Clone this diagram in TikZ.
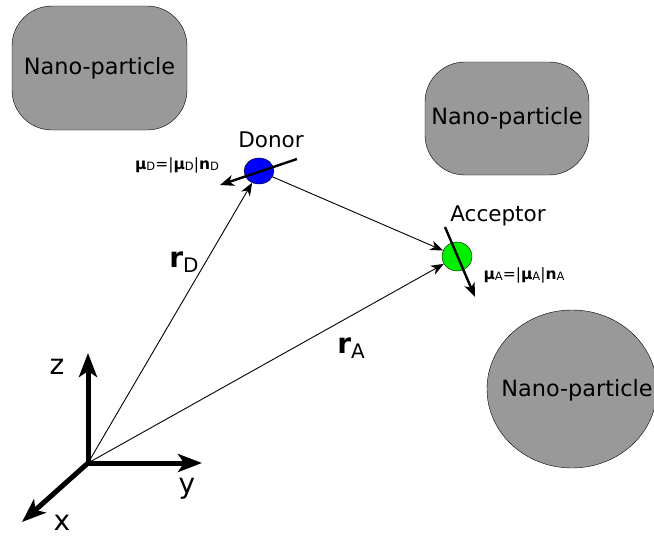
\documentclass[tikz,border=0pt]{standalone}
\usepackage{fontspec}
\setmainfont{DejaVu Sans}
\usetikzlibrary{arrows.meta,shapes.geometric,calc}
\definecolor{NanoGray}{HTML}{999999}
\definecolor{DonorBlue}{HTML}{0000FF}
\definecolor{AccGreen}{HTML}{00F000}
\newcommand{\smallidx}[1]{\raisebox{-0.12em}{\fontsize{11.5}{13}\selectfont #1}}
\newcommand{\bigidx}[1]{\raisebox{-0.18em}{\fontsize{20}{24}\selectfont #1}}
\newcommand{\dipolelab}[1]{\textbf{μ}\smallidx{#1}=|\textbf{μ}\smallidx{#1}|\textbf{n}\smallidx{#1}}
\tikzset{
  nano/.style={draw=black, fill=NanoGray, rounded corners=40pt, inner sep=0pt, font=\fontsize{22.4}{26}\selectfont},
  nanoball/.style={draw=black, fill=NanoGray, ellipse, inner sep=0pt},
  nanotext/.style={inner sep=0pt, font=\fontsize{22.4}{26}\selectfont},
  mol/.style={draw=black, ellipse, inner sep=0pt},
  lbl/.style={inner sep=0pt, font=\fontsize{21.5}{25}\selectfont},
  axislbl/.style={inner sep=0pt, font=\fontsize{28}{32}\selectfont},
  rvec/.style={-{Stealth[length=13pt,width=10pt,inset=4pt]}, line width=0.9pt},
  dip/.style={-{Stealth[length=14pt,width=11pt,inset=4pt]}, line width=2.4pt},
  axis/.style={-{Stealth[length=24pt,width=18pt,inset=6pt]}, line width=5pt}
}

\begin{document}
\begin{tikzpicture}[x=1pt, y=-1pt]
  \useasboundingbox (0,0) rectangle (654,538);
  % the three particles
  \node[nano, minimum width=175pt, minimum height=124pt] (NP1) at (99.5,68) {Nano-particle};
  \node[nano, minimum width=164pt, minimum height=113pt] (NP2) at (507,118.5) {Nano-particle};
  \node[nanoball, minimum width=170pt, minimum height=158pt] (NP3) at (572,389) {};
  \node[nanotext] (NP3text) at (577,390) {Nano-particle};

  % donor and acceptor
  \node[mol, fill=DonorBlue, minimum width=30pt, minimum height=26pt] (D) at (259,171) {};
  \node[mol, fill=AccGreen, minimum width=30pt, minimum height=29pt] (A) at (457,256.5) {};
  \node[lbl] (Dname) at (271,140) {Donor};
  \node[lbl] (Aname) at (498,216) {Acceptor};

  % frame
  \coordinate (O) at (88,463);
  \coordinate (Ez) at (88,353);
  \coordinate (Ey) at (202,463);
  \coordinate (Ex) at (22,522);
  \draw[axis] (O) -- (Ez);
  \draw[axis] (O) -- (Ey);
  \draw[axis] (O) -- (Ex);
  \node[axislbl] (zl) at (57,367) {z};
  \node[axislbl] (yl) at (187,489) {y};
  \node[axislbl] (xl) at (62,523) {x};

  % position vectors
  \draw[rvec] (O) -- (D);
  \draw[rvec] (O) -- (A);
  \draw[rvec] (D) -- (A);
  \node[axislbl] (rD) at (184,262) {\textbf{r}\bigidx{D}};
  \node[axislbl] (rA) at (351,348) {\textbf{r}\bigidx{A}};

  % dipole moments
  \coordinate (Dtail) at (297,159);
  \coordinate (Dhead) at (220,185);
  \coordinate (Atail) at (445,227);
  \coordinate (Ahead) at (475,297);
  \draw[dip] (Dtail) -- (Dhead);
  \draw[dip] (Atail) -- (Ahead);
  \node[inner sep=0pt, font=\fontsize{15.5}{18}\selectfont] (muD) at (177,165) {\dipolelab{D}};
  \node[inner sep=0pt, font=\fontsize{15.5}{18}\selectfont] (muA) at (524,275) {\dipolelab{A}};
\end{tikzpicture}
\end{document}
